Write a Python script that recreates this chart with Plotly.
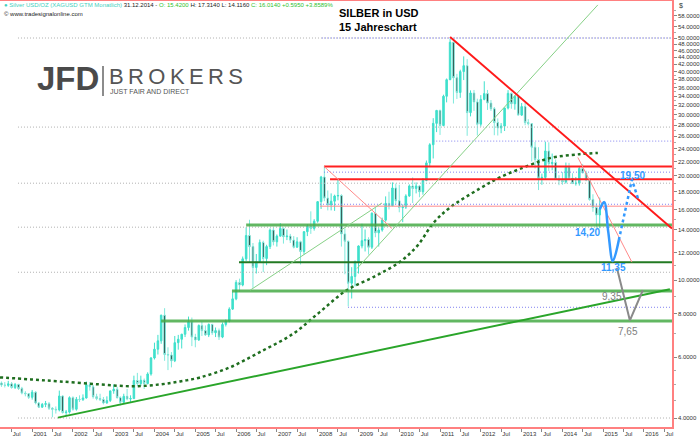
import math
import pandas as pd
import plotly.graph_objects as go

# ---------------- data ----------------
first_month = "2000-04-01"
last_month = "2014-12-01"

opens = [5.05, 4.98, 4.97, 5.02, 4.90, 5.00, 4.87, 4.72, 4.70,
         4.59, 4.75, 4.42, 4.30, 4.38, 4.40, 4.27, 4.24, 4.22, 4.63, 4.15, 4.16,
         4.58, 4.24, 4.53, 4.52, 4.57, 4.99, 4.92, 4.61, 4.55, 4.52, 4.42, 4.49,
         4.79, 4.84, 4.58, 4.44, 4.62, 4.54, 4.55, 5.13, 5.03, 5.14, 5.03, 5.36,
         5.96, 6.32, 6.68, 7.92, 6.10, 6.08, 5.85, 6.60, 6.75, 6.98, 7.30, 7.58,
         6.85, 6.72, 7.40, 7.15, 6.95, 7.45, 7.05, 7.15, 6.85, 7.45, 7.62, 8.25,
         8.83, 9.85, 9.68, 11.52, 13.45, 12.50, 10.88, 11.30, 12.85, 11.55, 12.50, 13.95,
         12.90, 13.40, 14.10, 13.35, 13.40, 13.05, 12.45, 12.90, 12.10, 13.80, 14.30, 14.10,
         14.80, 16.85, 19.85, 17.25, 16.50, 16.90, 17.50, 17.55, 13.60, 12.95, 9.80, 10.25,
         11.30, 12.55, 13.00, 13.10, 12.45, 15.60, 13.70, 13.95, 14.90, 16.65, 16.40, 18.45,
         16.95, 16.20, 16.25, 17.50, 18.70, 18.40, 18.70, 18.00, 19.40, 21.80, 24.60, 28.35,
         30.90, 27.95, 33.95, 37.90, 48.60, 38.40, 34.80, 40.00, 41.60, 30.45, 34.70, 32.70,
         28.20, 33.25, 34.55, 32.45, 31.25, 28.50, 27.50, 27.85, 31.40, 34.60, 32.30, 33.95,
         29.95, 31.70, 28.50, 28.30, 24.20, 22.30, 19.70, 19.80, 23.60, 21.70, 21.85, 19.55,
         19.40, 19.20, 21.20, 19.70, 19.00, 19.05, 21.00, 20.40, 19.45, 17.10, 16.20, 15.42]
highs = [5.10, 5.08, 5.12, 5.08, 5.05, 5.02, 4.92, 4.78, 4.72,
         4.82, 4.78, 4.45, 4.42, 4.48, 4.45, 4.30, 4.32, 4.80, 4.65, 4.22, 4.62,
         4.62, 4.60, 4.65, 4.68, 5.10, 5.08, 4.98, 4.70, 4.70, 4.60, 4.62, 4.80,
         5.00, 4.92, 4.62, 4.70, 4.85, 4.65, 5.30, 5.40, 5.30, 5.20, 5.42, 6.00,
         6.60, 6.95, 7.95, 8.30, 6.40, 6.20, 6.90, 6.95, 7.00, 7.45, 7.85, 7.80,
         7.00, 7.45, 7.60, 7.40, 7.50, 7.48, 7.30, 7.25, 7.55, 7.70, 8.35, 9.25,
         10.00, 10.10, 11.70, 14.20, 14.94, 12.80, 11.90, 13.10, 13.00, 12.65, 14.10, 14.20,
         13.55, 14.60, 14.20, 14.00, 13.60, 13.40, 13.30, 13.00, 13.85, 14.50, 15.80, 15.00,
         16.90, 20.00, 21.35, 18.15, 17.80, 17.65, 19.50, 17.70, 14.10, 13.00, 10.90, 11.40,
         12.60, 14.55, 14.00, 13.30, 15.70, 16.20, 14.20, 15.15, 17.45, 18.00, 19.15, 19.00,
         18.85, 16.55, 17.70, 18.90, 19.80, 19.15, 18.80, 19.70, 22.15, 24.85, 29.35, 31.00,
         31.05, 34.30, 38.20, 49.80, 48.70, 39.40, 40.50, 44.25, 43.45, 35.30, 35.40, 33.40,
         34.20, 37.50, 35.40, 33.10, 31.60, 29.30, 28.40, 31.45, 35.35, 34.80, 34.20, 34.05,
         32.45, 32.45, 29.15, 28.40, 25.05, 24.20, 20.30, 25.10, 25.00, 23.20, 22.30, 20.10,
         20.50, 21.85, 21.80, 20.35, 19.85, 21.25, 21.65, 20.70, 19.50, 17.70, 16.65, 17.31]
lows = [4.92, 4.90, 4.92, 4.86, 4.85, 4.82, 4.68, 4.62, 4.54,
        4.52, 4.38, 4.28, 4.28, 4.30, 4.22, 4.02, 4.12, 4.18, 4.12, 4.06, 4.12,
        4.20, 4.20, 4.45, 4.48, 4.55, 4.80, 4.55, 4.50, 4.48, 4.38, 4.40, 4.45,
        4.70, 4.55, 4.35, 4.40, 4.50, 4.45, 4.55, 4.95, 4.95, 4.85, 5.00, 5.30,
        5.90, 6.10, 6.55, 5.85, 5.50, 5.60, 5.80, 6.30, 6.35, 6.85, 7.15, 6.45,
        6.40, 6.68, 6.90, 6.90, 6.85, 6.95, 6.85, 6.72, 6.80, 7.35, 7.55, 8.20,
        8.75, 9.25, 9.60, 11.35, 11.25, 9.50, 10.45, 11.25, 10.55, 11.05, 12.30, 12.60,
        12.50, 13.35, 12.75, 13.05, 12.80, 12.35, 12.40, 11.10, 11.85, 13.40, 13.60, 13.90,
        14.65, 16.05, 16.90, 15.90, 15.90, 15.85, 17.00, 12.50, 10.40, 8.40, 8.85, 9.60,
        10.45, 12.35, 12.10, 11.85, 12.30, 13.30, 12.50, 13.80, 14.75, 16.00, 16.35, 16.50,
        15.70, 14.70, 16.05, 17.40, 16.70, 17.80, 17.35, 17.65, 19.30, 21.20, 22.45, 26.75,
        26.25, 27.80, 32.60, 37.80, 32.35, 33.35, 33.60, 37.80, 26.10, 29.70, 30.80, 26.15,
        27.75, 33.05, 31.00, 30.80, 26.20, 26.15, 26.55, 26.95, 31.10, 31.25, 31.05, 29.90,
        29.80, 28.00, 27.95, 22.00, 21.00, 18.20, 18.85, 19.50, 20.65, 20.75, 19.50, 18.80,
        18.85, 19.00, 19.55, 18.95, 18.75, 18.75, 20.35, 19.30, 16.95, 15.75, 14.16, 14.12]
closes = [4.98, 4.97, 5.02, 4.90, 5.00, 4.87, 4.72, 4.70, 4.59,
          4.75, 4.42, 4.30, 4.38, 4.40, 4.27, 4.24, 4.22, 4.63, 4.15, 4.16, 4.58,
          4.24, 4.53, 4.52, 4.57, 4.99, 4.92, 4.61, 4.55, 4.52, 4.42, 4.49, 4.79,
          4.84, 4.58, 4.44, 4.62, 4.54, 4.55, 5.13, 5.03, 5.14, 5.03, 5.36, 5.96,
          6.32, 6.68, 7.92, 6.10, 6.08, 5.85, 6.60, 6.75, 6.98, 7.30, 7.58, 6.85,
          6.72, 7.40, 7.15, 6.95, 7.45, 7.05, 7.15, 6.85, 7.45, 7.62, 8.25, 8.83,
          9.85, 9.68, 11.52, 13.45, 12.50, 10.88, 11.30, 12.85, 11.55, 12.50, 13.95, 12.90,
          13.40, 14.10, 13.35, 13.40, 13.05, 12.45, 12.90, 12.10, 13.80, 14.30, 14.10, 14.80,
          16.85, 19.85, 17.25, 16.50, 16.90, 17.50, 17.55, 13.60, 12.95, 9.80, 10.25, 11.30,
          12.55, 13.00, 13.10, 12.45, 15.60, 13.70, 13.95, 14.90, 16.65, 16.40, 18.45, 16.95,
          16.20, 16.25, 17.50, 18.70, 18.40, 18.70, 18.00, 19.40, 21.80, 24.60, 28.35, 30.90,
          27.95, 33.95, 37.90, 48.60, 38.40, 34.80, 40.00, 41.60, 30.45, 34.70, 32.70, 28.20,
          33.25, 34.55, 32.45, 31.25, 28.50, 27.50, 27.85, 31.40, 34.60, 32.30, 33.95, 29.95,
          31.70, 28.50, 28.30, 24.20, 22.30, 19.70, 19.80, 23.60, 21.70, 21.85, 19.55, 19.40,
          19.20, 21.20, 19.70, 19.00, 19.05, 21.00, 20.40, 19.45, 17.10, 16.20, 15.42, 16.01]

ma_dates = ["2000-03-19", "2000-12-20", "2001-09-08", "2002-08-31", "2003-06-23",
            "2004-02-20", "2004-08-17", "2005-02-13", "2005-11-06", "2006-08-02",
            "2007-05-26", "2008-01-22", "2008-09-17", "2009-06-07", "2010-01-08",
            "2010-06-15", "2010-11-01", "2011-03-31", "2011-12-25", "2012-06-20",
            "2013-03-17", "2013-09-10", "2014-06-04", "2014-11-14"]
ma_values = [5.24, 5.17, 5.10, 5.00, 4.94,
             5.00, 5.10, 5.24, 5.60, 6.20,
             7.00, 8.10, 9.35, 10.3, 11.3,
             12.6, 14.6, 16.2, 18.4, 19.8,
             21.5, 22.5, 23.1, 23.3]

line_end = "2016-09-08"
gray_levels = [50.0, 27.66, 19.05, 14.22, 10.54, 4.0]
gray_start = "2000-08-27"
blue_levels = [50.0, 25.2, 20.5, 16.56, 8.35]
blue_starts = ["2008-02-09", "2010-11-01", "2008-02-27", "2008-01-22", "2008-09-29"]
green_levels = [14.43, 9.30, 7.62]
green_starts = ["2006-04-01", "2005-11-25", "2004-03-01"]
darkgreen_level = 11.27
darkgreen_start = "2006-01-27"
red_levels = [21.3, 19.56]
red_starts = ["2008-02-27", "2008-04-21"]
pink_level = 16.35
pink_start = "2008-01-22"

red_trend = (["2011-04-01", "2016-09-08"], [50.3, 14.1])
support_trend = (["2001-08-20", "2016-08-20"], [4.01, 9.41])
thin_green_1 = (["2006-05-06", "2009-07-30"], [9.35, 16.7])
thin_green_2 = (["2008-12-18", "2014-11-14"], [10.8, 62.3])
pink_trend_1 = (["2008-02-27", "2009-10-28"], [21.3, 14.1])
pink_trend_2 = (["2014-05-19", "2015-09-15"], [22.6, 11.27])

blue_path_solid = (["2014-12-01", "2015-01-10", "2015-02-15", "2015-03-28", "2015-05-21"],
                   [16.0, 16.8, 13.8, 11.35, 13.06])
blue_path_dotted = (["2015-05-21", "2015-09-15", "2015-11-14"], [13.06, 19.5, 17.0])
gray_path = (["2015-05-04", "2015-08-28", "2015-12-22"], [10.84, 7.65, 9.35])

blue_labels = ["14,20", "11,35", "19,50"]
blue_label_x = ["2014-08-17", "2015-04-06", "2015-09-24"]
blue_label_y = [13.7, 10.9, 20.0]
gray_labels = ["9,35", "7,65"]
gray_label_x = ["2015-03-20", "2015-08-10"]
gray_label_y = [9.0, 7.13]

y_ticks = [4, 6, 8, 10, 12, 14, 16, 18, 20, 22, 24, 26, 28, 30, 32, 34, 36, 38, 40,
           42, 44, 46, 48, 50, 54, 58]
y_minor = [4.5, 5, 5.5, 7, 9, 11, 13, 15, 17, 19, 21, 23, 25, 27, 29, 31, 33, 35, 37, 39, 52, 56, 60]
x_tick_dates = [f"{y}-{m:02d}-01" for y in range(2000, 2017) for m in (1, 7)][1:]
x_tick_text = ["Jul" if d.endswith("07-01") else d[:4] for d in x_tick_dates]

# ---------------- figure ----------------
months = pd.date_range(first_month, last_month, freq="MS")
fig = go.Figure()

FONT = "Liberation Sans, Arial, sans-serif"

def hline(level, start, color, width, dash="solid"):
    fig.add_trace(go.Scatter(x=[start, line_end], y=[level, level], mode="lines",
                             line=dict(color=color, width=width, dash=dash),
                             hoverinfo="skip", showlegend=False))

def seg(pair, color, width, dash="solid", shape="linear"):
    fig.add_trace(go.Scatter(x=pair[0], y=pair[1], mode="lines",
                             line=dict(color=color, width=width, dash=dash, shape=shape),
                             hoverinfo="skip", showlegend=False))

for lv in gray_levels:
    hline(lv, gray_start, "#b0b0b0", 1, "1px,2px")
for lv, st in zip(blue_levels, blue_starts):
    hline(lv, st, "#8080f0", 1, "1px,2px")

fig.add_trace(go.Candlestick(
    x=months, open=opens, high=highs, low=lows, close=closes,
    increasing=dict(line=dict(color="#3fe0cc", width=1), fillcolor="#3fe0cc"),
    decreasing=dict(line=dict(color="#7fe9dc", width=1), fillcolor="#000000"),
    whiskerwidth=0, hoverinfo="skip", showlegend=False))

fig.add_trace(go.Scatter(x=ma_dates, y=ma_values, mode="lines",
                         line=dict(color="#1f6e1f", width=2.5, dash="dot", shape="spline"),
                         hoverinfo="skip", showlegend=False))

for lv, st in zip(green_levels, green_starts):
    hline(lv, st, "rgba(70,170,70,0.85)", 3)
hline(darkgreen_level, darkgreen_start, "#237a23", 2)
for lv, st in zip(red_levels, red_starts):
    hline(lv, st, "#ff2020", 2)
hline(pink_level, pink_start, "#ff8a8a", 1)

seg(support_trend, "#2aa52a", 2)
seg(thin_green_1, "#86d086", 1)
seg(thin_green_2, "#86d086", 1)
seg(pink_trend_1, "#ff8a8a", 1)
seg(pink_trend_2, "#ff8a8a", 1)
seg(red_trend, "#ff1a1a", 2)

seg(blue_path_solid, "#3399ff", 2.5, shape="spline")
seg(blue_path_dotted, "#3399ff", 2.5, "dot")
seg(gray_path, "#8a8a8a", 2)

for t, x, y in zip(blue_labels, blue_label_x, blue_label_y):
    fig.add_annotation(x=x, y=math.log10(y), text=f"<b>{t}</b>", showarrow=False,
                       font=dict(size=10, color="#3399ff", family=FONT))
for t, x, y in zip(gray_labels, gray_label_x, gray_label_y):
    fig.add_annotation(x=x, y=math.log10(y), text=t, showarrow=False,
                       font=dict(size=10, color="#808080", family=FONT))

def px(x):
    return x / 672.0

def py(y):
    return (427.0 - y) / 426.0

info = ('<span style="color:#3fd0c0">\u25cf Silver USD/OZ (XAGUSD GTM Monatlich)</span> 31.12.2014 - '
        '<span style="color:#2fbf2f">O: 15.4200</span> H: 17.3140 L: 14.1160 '
        '<span style="color:#2fbf2f">C: 16.0140 +0.5950 +3.8589%</span>')
fig.add_annotation(xref="paper", yref="paper", x=px(2), y=py(5), xanchor="left", yanchor="middle",
                   text=info, showarrow=False, font=dict(size=6, color="#222", family=FONT))
fig.add_annotation(xref="paper", yref="paper", x=px(2), y=py(14), xanchor="left", yanchor="middle",
                   text="\u00a9 www.tradesignalonline.com", showarrow=False,
                   font=dict(size=6, color="#222", family=FONT))

fig.add_annotation(xref="paper", yref="paper", x=px(379), y=py(13), xanchor="center", yanchor="middle",
                   text="<b>SILBER in USD</b>", showarrow=False, font=dict(size=11, color="black", family=FONT))
fig.add_annotation(xref="paper", yref="paper", x=px(378), y=py(26.5), xanchor="center", yanchor="middle",
                   text="<b>15 Jahreschart</b>", showarrow=False, font=dict(size=11, color="black", family=FONT))

fig.add_annotation(xref="paper", yref="paper", x=px(35), y=py(79), xanchor="left", yanchor="middle",
                   text="<b>JFD</b>", showarrow=False, font=dict(size=33, color="#4a4a4a", family=FONT))
fig.add_annotation(xref="paper", yref="paper", x=px(107), y=py(76), xanchor="left", yanchor="middle",
                   text="B\u2009R\u2009O\u2009K\u2009E\u2009R\u2009S", showarrow=False,
                   font=dict(size=22, color="#555555", family=FONT))
fig.add_annotation(xref="paper", yref="paper", x=px(108), y=py(92), xanchor="left", yanchor="middle",
                   text="JUST FAIR AND DIRECT", showarrow=False, font=dict(size=7, color="#555555", family=FONT))
fig.add_shape(type="line", xref="paper", yref="paper", x0=px(103), x1=px(103), y0=py(66), y1=py(96),
              line=dict(color="#666666", width=1.5))

fig.add_annotation(xref="paper", yref="paper", x=px(677), y=py(5), xanchor="left", yanchor="middle",
                   text="$", showarrow=False, font=dict(size=7, color="#333", family=FONT))

fig.update_layout(
    width=700, height=436,
    margin=dict(l=0, r=28, t=1, b=9),
    paper_bgcolor="white", plot_bgcolor="white",
    showlegend=False,
    xaxis=dict(type="date", range=["2000-03-19", "2016-09-08"],
               rangeslider=dict(visible=False),
               tickmode="array", tickvals=x_tick_dates, ticktext=x_tick_text,
               ticks="outside", ticklen=3, tickcolor="#888",
               ticklabelposition="outside right",
               tickfont=dict(size=6, color="#333", family=FONT),
               showgrid=False, zeroline=False,
               showline=True, linecolor="#ff8080", linewidth=1.5, mirror=True,
               automargin=False, fixedrange=True),
    yaxis=dict(type="log", range=[0.5761, 1.8058], side="right",
               tickmode="array", tickvals=y_ticks,
               ticktext=[f"{v:.4f}" for v in y_ticks],
               ticks="outside", ticklen=3, tickcolor="#888",
               minor=dict(tickmode="array", tickvals=y_minor, ticks="outside", ticklen=2, tickcolor="#aaa"),
               tickfont=dict(size=6, color="#333", family=FONT),
               showgrid=False, zeroline=False,
               showline=True, linecolor="#ff8080", linewidth=1.5,
               automargin=False, fixedrange=True),
)

fig.write_html("out.html", config={"displayModeBar": False},
               post_script="document.body.style.margin='0';document.body.style.overflow='hidden';")
